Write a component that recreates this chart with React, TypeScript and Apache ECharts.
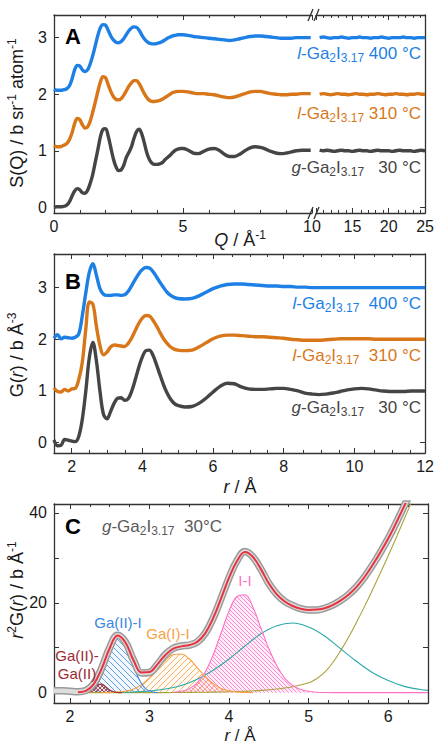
import React, { useEffect, useRef } from "react";
import * as echarts from "echarts";

// ---------------- DATA ----------------
// Panel A: S(Q), low-Q part (0-10 Å^-1)
const Q_LOW = [
  0, 0.1, 0.2, 0.3, 0.4, 0.5, 0.6, 0.7, 0.8, 0.9,
  1.0, 1.1, 1.2, 1.3, 1.4, 1.5, 1.6, 1.7, 1.8, 1.9,
  2.0, 2.1, 2.2, 2.3, 2.4, 2.5, 2.6, 2.7, 2.8, 2.9,
  3.0, 3.1, 3.2, 3.3, 3.4, 3.5, 3.6, 3.7, 3.8, 3.9,
  4.0, 4.1, 4.2, 4.3, 4.4, 4.5, 4.6, 4.7, 4.8, 4.9,
  5.0,
  5.2, 5.4, 5.6, 5.8, 6.0, 6.2, 6.4, 6.6, 6.8, 7.0,
  7.2, 7.4, 7.6, 7.8, 8.0, 8.2, 8.4, 8.6, 8.8, 9.0,
  9.2, 9.4, 9.6, 9.8, 9.95,
];
const S_30C_LOW = [
  0.00, 0.01, 0.01, 0.01, 0.02, 0.04, 0.10, 0.20, 0.29, 0.33,
  0.31, 0.26, 0.25, 0.30, 0.42, 0.58, 0.80, 1.02, 1.25, 1.38,
  1.39, 1.26, 1.06, 0.86, 0.72, 0.65, 0.66, 0.74, 0.88, 0.97,
  1.07, 1.22, 1.34, 1.38, 1.30, 1.14, 0.96, 0.84, 0.78, 0.76,
  0.76, 0.77, 0.79, 0.84, 0.88, 0.92, 0.97, 1.01, 1.03, 1.04,
  1.04,
  1.01, 0.96, 0.95, 0.99, 1.03, 1.04, 1.01, 0.94, 0.90, 0.90,
  0.94, 1.00, 1.05, 1.07, 1.06, 1.03, 0.99, 0.96, 0.95, 0.96,
  0.98, 1.00, 1.01, 1.01, 1.01,
];
const S_310C_LOW = [
  1.09, 1.07, 1.07, 1.08, 1.10, 1.13, 1.20, 1.32, 1.48, 1.57,
  1.55, 1.46, 1.40, 1.42, 1.52, 1.68, 1.86, 2.05, 2.22, 2.31,
  2.29, 2.17, 2.05, 1.96, 1.91, 1.90, 1.92, 1.98, 2.06, 2.14,
  2.20, 2.24, 2.24, 2.19, 2.10, 2.01, 1.94, 1.89, 1.87, 1.87,
  1.88, 1.89, 1.91, 1.94, 1.97, 2.00, 2.03, 2.04, 2.05, 2.05,
  2.05,
  2.04, 2.02, 2.01, 2.01, 2.00, 1.99, 1.97, 1.95, 1.94, 1.95,
  1.98, 2.01, 2.04, 2.05, 2.05, 2.03, 2.01, 2.00, 1.99, 1.99,
  2.00, 2.00, 2.01, 2.01, 2.01,
];
const S_400C_LOW = [
  2.09, 2.07, 2.07, 2.07, 2.08, 2.10, 2.15, 2.27, 2.43, 2.51,
  2.50, 2.43, 2.40, 2.43, 2.53, 2.68, 2.86, 3.04, 3.18, 3.23,
  3.22, 3.13, 3.03, 2.96, 2.92, 2.91, 2.93, 2.98, 3.05, 3.12,
  3.17, 3.19, 3.18, 3.13, 3.05, 2.98, 2.93, 2.90, 2.89, 2.89,
  2.90, 2.91, 2.93, 2.96, 2.99, 3.01, 3.03, 3.04, 3.05, 3.05,
  3.05,
  3.04, 3.02, 3.01, 3.00, 2.99, 2.98, 2.97, 2.96, 2.95, 2.96,
  2.98, 3.00, 3.02, 3.03, 3.03, 3.02, 3.01, 3.00, 2.99, 2.99,
  2.99, 3.00, 3.00, 3.00, 3.00,
];
// Panel A: high-Q part (10-25 Å^-1)
const Q_HIGH = [
  10.5, 11, 11.5, 12, 12.5, 13, 13.5, 14, 14.5, 15,
  15.5, 16, 16.5, 17, 17.5, 18, 18.5, 19, 19.5, 20,
  20.5, 21, 21.5, 22, 22.5, 23, 23.5, 24, 24.5, 25,
];
const S_30C_HIGH = [
  1.01, 1.00, 1.01, 1.00, 0.99, 1.00, 1.01, 1.00, 1.00, 0.99,
  1.00, 1.01, 1.00, 1.00, 0.99, 1.00, 1.01, 1.00, 1.00, 1.00,
  0.99, 1.00, 1.01, 1.00, 1.00, 1.00, 0.99, 1.00, 1.01, 1.00,
];
const S_310C_HIGH = [
  2.00, 2.01, 2.00, 1.99, 2.00, 2.01, 2.00, 2.00, 1.99, 2.00,
  2.01, 2.00, 2.00, 1.99, 2.00, 2.00, 2.01, 2.00, 1.99, 2.00,
  2.00, 2.01, 2.00, 2.00, 1.99, 2.00, 2.00, 2.01, 2.00, 2.00,
];
const S_400C_HIGH = [
  3.00, 3.01, 3.00, 2.99, 3.00, 3.00, 3.01, 3.00, 2.99, 3.00,
  3.00, 3.01, 3.00, 3.00, 2.99, 3.00, 3.00, 3.01, 3.00, 2.99,
  3.00, 3.00, 3.00, 3.01, 3.00, 3.00, 2.99, 3.00, 3.00, 3.00,
];

// Panel B: G(r)
const R_B = [
  1.5, 1.6, 1.7, 1.8, 1.9, 2.0, 2.1, 2.2, 2.3, 2.4,
  2.5, 2.6, 2.7, 2.8, 2.9, 3.0, 3.1, 3.2, 3.3, 3.4,
  3.5, 3.6, 3.7, 3.8, 3.9, 4.0, 4.1, 4.2, 4.3, 4.4,
  4.5, 4.6, 4.7, 4.8, 4.9, 5.0,
  5.2, 5.4, 5.6, 5.8, 6.0, 6.2, 6.4, 6.6, 6.8, 7.0,
  7.2, 7.4, 7.6, 7.8, 8.0, 8.2, 8.4, 8.6, 8.8, 9.0,
  9.2, 9.4, 9.6, 9.8, 10.0, 10.2, 10.4, 10.6, 10.8, 11.0,
  11.2, 11.4, 11.6, 11.8, 12.0,
];
const G_30C = [
  0.05, -0.06, -0.05, 0.06, 0.05, 0.03, 0.02, 0.12, 0.45, 1.00,
  1.65, 1.94, 1.58, 1.00, 0.55, 0.46, 0.60, 0.76, 0.86, 0.87,
  0.82, 0.85, 1.00, 1.22, 1.46, 1.66, 1.78, 1.79, 1.69, 1.51,
  1.31, 1.12, 0.96, 0.84, 0.76, 0.72,
  0.69, 0.70, 0.76, 0.86, 0.98, 1.09, 1.15, 1.14, 1.08, 1.04,
  1.03, 1.03, 1.04, 1.05, 1.05, 1.03, 1.00, 0.96, 0.94, 0.93,
  0.94, 0.96, 0.99, 1.02, 1.04, 1.05, 1.04, 1.02, 1.00, 0.99,
  0.99, 0.99, 1.00, 1.00, 1.00,
];
const G_310C = [
  1.06, 0.99, 0.98, 1.03, 1.00, 1.04, 1.05, 1.22, 1.55, 2.20,
  2.72, 2.68, 2.25, 1.88, 1.70, 1.75, 1.85, 1.89, 1.88, 1.87,
  1.86, 1.92, 2.03, 2.17, 2.31, 2.41, 2.46, 2.45, 2.37, 2.26,
  2.13, 2.01, 1.92, 1.85, 1.81, 1.79,
  1.78, 1.79, 1.85, 1.93, 2.01, 2.06, 2.08, 2.08, 2.07, 2.06,
  2.05, 2.05, 2.04, 2.03, 2.02, 2.00, 1.99, 1.98, 1.98, 1.98,
  1.99, 2.00, 2.01, 2.01, 2.01, 2.01, 2.01, 2.00, 2.00, 2.00,
  2.00, 2.00, 2.00, 2.00, 2.00,
];
const G_400C = [
  2.02, 2.09, 2.01, 2.04, 2.03, 2.02, 2.04, 2.10, 2.45, 2.90,
  3.30, 3.46, 3.24, 2.98, 2.87, 2.85, 2.85, 2.86, 2.86, 2.85,
  2.86, 2.93, 3.04, 3.16, 3.27, 3.35, 3.39, 3.38, 3.31, 3.21,
  3.10, 3.00, 2.91, 2.85, 2.81, 2.79,
  2.78, 2.79, 2.84, 2.91, 2.98, 3.03, 3.06, 3.07, 3.07, 3.06,
  3.05, 3.04, 3.03, 3.03, 3.02, 3.02, 3.01, 3.01, 3.00, 3.00,
  3.00, 3.00, 3.00, 3.00, 3.00, 3.00, 3.00, 3.00, 3.00, 3.00,
  3.00, 3.00, 3.00, 3.00, 3.00,
];

// Panel C: r^2 G(r), g-Ga2I3.17 at 30 °C
const R_C = [
  1.8, 1.9, 2.0, 2.1, 2.2, 2.3, 2.4, 2.5, 2.6, 2.7,
  2.8, 2.9, 3.0, 3.1, 3.2, 3.3, 3.4, 3.5, 3.6, 3.7,
  3.8, 3.9, 4.0, 4.1, 4.2, 4.3, 4.4, 4.5, 4.6, 4.7,
  4.8, 4.9, 5.0, 5.1, 5.2, 5.3, 5.4, 5.5, 5.6, 5.7,
  5.8, 5.9, 6.0, 6.1, 6.2, 6.3,
];
const DATA_C = [
  0.4, 0.4, 0.3, 0.2, 0.5, 2.0, 5.5, 10.0, 12.8, 11.2,
  7.2, 4.4, 4.5, 6.3, 8.5, 9.9, 10.4, 10.6, 11.3, 13.2,
  16.6, 21.0, 25.6, 29.4, 31.4, 30.2, 27.5, 24.3, 21.9, 20.3,
  19.4, 18.7, 18.4, 18.4, 18.8, 19.5, 20.5, 21.8, 23.5, 25.7,
  28.3, 31.2, 34.3, 37.8, 41.5, 45.3,
];
const R_FIT = [
  2.1, 2.2, 2.3, 2.4, 2.5, 2.6, 2.7, 2.8, 2.9, 3.0,
  3.1, 3.2, 3.3, 3.4, 3.5, 3.6, 3.7, 3.8, 3.9, 4.0,
  4.1, 4.2, 4.3, 4.4, 4.5, 4.6, 4.7, 4.8, 4.9, 5.0,
  5.1, 5.2, 5.3, 5.4, 5.5, 5.6, 5.7, 5.8, 5.9, 6.0,
  6.1, 6.2, 6.3,
];
const FIT_C = [
  0.1, 0.4, 1.9, 5.4, 9.9, 12.7, 11.1, 7.2, 4.5, 4.6,
  6.3, 8.4, 9.8, 10.3, 10.6, 11.3, 13.2, 16.6, 21.0, 25.6,
  29.3, 31.3, 30.2, 27.5, 24.3, 21.9, 20.3, 19.3, 18.7, 18.4,
  18.5, 18.8, 19.5, 20.5, 21.8, 23.5, 25.7, 28.3, 31.2, 34.3,
  37.8, 41.5, 45.3,
];
const R_GAGA = [2.15, 2.2, 2.25, 2.3, 2.35, 2.4, 2.45, 2.5, 2.55, 2.6, 2.65];
const V_GAGA = [0, 0.05, 0.3, 1.0, 1.8, 1.9, 1.3, 0.6, 0.2, 0.05, 0];
const R_GA2I = [
  2.15, 2.2, 2.25, 2.3, 2.35, 2.4, 2.45, 2.5, 2.55, 2.6,
  2.65, 2.7, 2.75, 2.8, 2.85, 2.9, 2.95, 3.0, 3.05, 3.1,
];
const V_GA2I = [
  0.05, 0.1, 0.3, 0.9, 2.0, 3.8, 6.1, 8.7, 11.0, 12.4,
  12.3, 10.9, 8.6, 6.0, 3.7, 2.0, 0.9, 0.4, 0.1, 0,
];
const R_GA1I = [
  2.4, 2.5, 2.6, 2.7, 2.8, 2.9, 3.0, 3.1, 3.2, 3.3,
  3.4, 3.5, 3.6, 3.7, 3.8, 3.9, 4.0, 4.1, 4.2, 4.3,
];
const V_GA1I = [
  0.02, 0.05, 0.15, 0.35, 0.8, 1.8, 3.3, 5.2, 7.2, 8.5,
  8.6, 7.5, 5.6, 3.6, 2.0, 0.9, 0.4, 0.15, 0.05, 0,
];
const R_II = [
  3.3, 3.4, 3.5, 3.6, 3.7, 3.8, 3.9, 4.0, 4.1, 4.2,
  4.3, 4.4, 4.5, 4.6, 4.7, 4.8, 4.9, 5.0, 5.1, 5.2,
  5.3, 5.5, 6.0, 6.5,
];
const V_II = [
  0.1, 0.3, 0.9, 2.2, 4.6, 8.4, 13.3, 18.2, 21.4, 21.8,
  19.0, 14.4, 9.8, 6.0, 3.2, 1.6, 0.7, 0.3, 0.1, 0.03,
  0, 0, 0, 0,
];
const R_TEAL = [
  2.6, 2.8, 3.0, 3.2, 3.4, 3.6, 3.8, 4.0, 4.2, 4.4,
  4.6, 4.8, 5.0, 5.2, 5.4, 5.6, 5.8, 6.0, 6.2, 6.4, 6.5,
];
const V_TEAL = [
  0.05, 0.15, 0.36, 0.81, 1.6, 3.0, 5.0, 7.5, 10.4, 13.1,
  14.9, 15.5, 14.6, 12.6, 9.8, 7.0, 4.5, 2.7, 1.4, 0.7, 0.5,
];
const R_OLIVE = [
  2.2, 3.0, 3.2, 3.4, 3.6, 3.8, 4.0, 4.2, 4.4, 4.6,
  4.8, 5.0, 5.1, 5.2, 5.3, 5.4, 5.5, 5.6, 5.7, 5.8,
  5.9, 6.0, 6.1, 6.2, 6.3, 6.4,
];
const V_OLIVE = [
  0, 0.0, 0.02, 0.05, 0.08, 0.13, 0.2, 0.32, 0.5, 0.8,
  1.3, 2.2, 3.1, 4.5, 6.6, 9.3, 12.3, 15.6, 19.1, 22.8,
  26.6, 30.5, 34.5, 38.6, 42.8, 47.0,
];

// Tick values
const A_LEFT_MAJOR = [0, 5, 10];
const A_LEFT_MINOR = [1, 2, 3, 4, 6, 7, 8, 9];
const A_RIGHT_MAJOR = [10, 15, 20, 25];
const A_RIGHT_LABELS = [15, 20, 25];
const A_RIGHT_MINOR = [11, 12, 13, 14, 16, 17, 18, 19, 21, 22, 23, 24];
const AB_Y_TICKS = [0, 1, 2, 3];
const B_MAJOR = [2, 4, 6, 8, 10, 12];
const B_MINOR = [2.5, 3, 3.5, 4.5, 5, 5.5, 6.5, 7, 7.5, 8.5, 9, 9.5, 10.5, 11, 11.5];
const C_MAJOR = [2, 3, 4, 5, 6];
const C_MINOR = [2.25, 2.5, 2.75, 3.25, 3.5, 3.75, 4.25, 4.5, 4.75, 5.25, 5.5, 5.75, 6.25];
const C_Y_TICKS = [0, 10, 20, 30, 40];
const C_Y_LABELS = [0, 20, 40];

// ---------------- STYLE ----------------
const FONT = "Liberation Sans, Arial, Helvetica, sans-serif";
const AX = "#333333";
const BLUE = "#1e80e4";
const ORANGE = "#d8771a";
const GRAY = "#454545";
const C_GAGA = "#9b2a35";
const C_GA2I = "#3a88e2";
const C_GA1I = "#f7a246";
const C_II = "#ff72c6";
const C_TEAL = "#2aa9a9";
const C_OLIVE = "#a9a23a";
const C_RED = "#e8323f";

const zip = (xs: number[], ys: number[]) => xs.map((x, i) => [x, ys[i]]);

function hatch(color: string, dir: "b" | "f" | "x", s: number, bg: number) {
  const back = `M0,0L${s},${s}M${-s / 2},${s / 2}L${s / 2},${s * 1.5}M${s / 2},${-s / 2}L${s * 1.5},${s / 2}`;
  const fwd = `M0,${s}L${s},0M${-s / 2},${s / 2}L${s / 2},${-s / 2}M${s / 2},${s * 1.5}L${s * 1.5},${s / 2}`;
  const d = dir === "b" ? back : dir === "f" ? fwd : back + fwd;
  const svg = `<svg xmlns="http://www.w3.org/2000/svg" width="${s}" height="${s}"><rect width="${s}" height="${s}" fill="${color}" fill-opacity="${bg}"/><path d="${d}" stroke="${color}" stroke-width="0.8" fill="none"/></svg>`;
  return {
    image: "data:image/svg+xml;charset=utf-8," + encodeURIComponent(svg),
    repeat: "repeat",
    imageWidth: s,
    imageHeight: s,
  };
}

function rich(color: string, size: number) {
  const small = Math.round(size * 0.68);
  return {
    n: { fill: color, color, fontSize: size, fontFamily: FONT, lineHeight: size + 4 },
    i: { fill: color, color, fontSize: size, fontFamily: FONT, fontStyle: "italic", lineHeight: size + 4 },
    s: { fill: color, color, fontSize: small, fontFamily: FONT, lineHeight: small, verticalAlign: "bottom" },
    p: { fill: color, color, fontSize: small, fontFamily: FONT, lineHeight: small, verticalAlign: "top" },
  };
}

function gtext(text: string, x: number, y: number, color: string, size: number, align: string, rotation = 0, extra: any = {}) {
  return {
    type: "text",
    x,
    y,
    rotation,
    z: 100,
    style: {
      text,
      rich: rich(color, size),
      fill: color,
      fontSize: size,
      fontFamily: FONT,
      align,
      verticalAlign: "middle",
      ...extra,
    },
  };
}

function xAxisMain(grid: number, min: number, max: number, ticks: number[], labels: number[] | null, position: string) {
  return {
    type: "value",
    gridIndex: grid,
    min,
    max,
    position,
    axisLine: { show: true, onZero: false, lineStyle: { color: AX, width: 1.3 } },
    axisTick: { show: true, inside: true, length: 5, customValues: ticks, lineStyle: { color: AX, width: 1 } },
    axisLabel: labels
      ? { show: true, customValues: labels, fontSize: 16, color: "#1a1a1a", fontFamily: FONT, margin: 5 }
      : { show: false },
    splitLine: { show: false },
  };
}
function xAxisMinor(grid: number, min: number, max: number, ticks: number[], position: string) {
  return {
    type: "value",
    gridIndex: grid,
    min,
    max,
    position,
    axisLine: { show: false, onZero: false },
    axisTick: { show: true, inside: true, length: 3, customValues: ticks, lineStyle: { color: AX, width: 1 } },
    axisLabel: { show: false },
    splitLine: { show: false },
  };
}
function yAxisMain(grid: number, min: number, max: number, ticks: number[], labels: number[] | null, position: string) {
  return {
    type: "value",
    gridIndex: grid,
    min,
    max,
    position,
    axisLine: { show: true, onZero: false, lineStyle: { color: AX, width: 1.3 } },
    axisTick: { show: true, inside: true, length: 5, customValues: ticks, lineStyle: { color: AX, width: 1 } },
    axisLabel: labels
      ? { show: true, customValues: labels, fontSize: 16, color: "#1a1a1a", fontFamily: FONT, margin: 7 }
      : { show: false },
    splitLine: { show: false },
  };
}
function yHidden(grid: number, min: number, max: number) {
  return { type: "value", gridIndex: grid, min, max, show: false, splitLine: { show: false } };
}

function dotted(name: string, xs: number[], ys: number[], color: string, xi: number, yi: number) {
  return {
    type: "line",
    name,
    xAxisIndex: xi,
    yAxisIndex: yi,
    data: zip(xs, ys),
    smooth: 0.35,
    showSymbol: false,
    symbol: "none",
    lineStyle: { color, width: 3.4 },
    emphasis: { disabled: true },
  };
}

function component(xs: number[], ys: number[], color: string, pattern: any) {
  return {
    type: "line",
    xAxisIndex: 6,
    yAxisIndex: 4,
    data: zip(xs, ys),
    smooth: 0.4,
    showSymbol: false,
    symbol: "none",
    lineStyle: { color, width: 1.1 },
    areaStyle: pattern ? { color: pattern, opacity: 1 } : undefined,
    emphasis: { disabled: true },
  };
}

export default function App() {
  const ref = useRef<HTMLDivElement>(null);
  useEffect(() => {
    if (!ref.current) return;
    const chart = echarts.init(ref.current, null, { renderer: "svg" });

    const grids = [
      { left: 54, top: 15, width: 258, height: 198 }, // 0 A1
      { left: 316, top: 15, width: 112, height: 198 }, // 1 A2
      { left: 54, top: 254, width: 374, height: 199 }, // 2 B
      { left: 54, top: 504, width: 374, height: 199 }, // 3 C
    ];
    const grid = [...grids, ...grids].map((g) => ({ ...g, containLabel: false }));

    const xAxis = [
      xAxisMain(0, 0, 10, A_LEFT_MAJOR, A_LEFT_MAJOR, "bottom"),
      xAxisMain(0, 0, 10, A_LEFT_MAJOR, null, "top"),
      xAxisMain(1, 10, 25, A_RIGHT_MAJOR, A_RIGHT_LABELS, "bottom"),
      xAxisMain(1, 10, 25, A_RIGHT_MAJOR, null, "top"),
      xAxisMain(2, 1.5, 12, B_MAJOR, B_MAJOR, "bottom"),
      xAxisMain(2, 1.5, 12, B_MAJOR, null, "top"),
      xAxisMain(3, 1.8, 6.5, C_MAJOR, C_MAJOR, "bottom"),
      xAxisMain(3, 1.8, 6.5, C_MAJOR, null, "top"),
      xAxisMinor(4, 0, 10, A_LEFT_MINOR, "bottom"),
      xAxisMinor(4, 0, 10, A_LEFT_MINOR, "top"),
      xAxisMinor(5, 10, 25, A_RIGHT_MINOR, "bottom"),
      xAxisMinor(5, 10, 25, A_RIGHT_MINOR, "top"),
      xAxisMinor(6, 1.5, 12, B_MINOR, "bottom"),
      xAxisMinor(6, 1.5, 12, B_MINOR, "top"),
      xAxisMinor(7, 1.8, 6.5, C_MINOR, "bottom"),
      xAxisMinor(7, 1.8, 6.5, C_MINOR, "top"),
    ];
    const yAxis = [
      yAxisMain(0, -0.1, 3.4, AB_Y_TICKS, AB_Y_TICKS, "left"),
      yAxisMain(1, -0.1, 3.4, AB_Y_TICKS, null, "right"),
      yAxisMain(2, -0.2, 3.65, AB_Y_TICKS, AB_Y_TICKS, "left"),
      yAxisMain(2, -0.2, 3.65, AB_Y_TICKS, null, "right"),
      yAxisMain(3, -2.3, 42, C_Y_TICKS, C_Y_LABELS, "left"),
      yAxisMain(3, -2.3, 42, C_Y_TICKS, null, "right"),
      yHidden(4, 0, 1),
      yHidden(5, 0, 1),
      yHidden(6, 0, 1),
      yHidden(7, 0, 1),
    ];

    const series: any[] = [
      dotted("30 °C", Q_LOW, S_30C_LOW, GRAY, 0, 0),
      dotted("310 °C", Q_LOW, S_310C_LOW, ORANGE, 0, 0),
      dotted("400 °C", Q_LOW, S_400C_LOW, BLUE, 0, 0),
      dotted("30 °C", Q_HIGH, S_30C_HIGH, GRAY, 2, 1),
      dotted("310 °C", Q_HIGH, S_310C_HIGH, ORANGE, 2, 1),
      dotted("400 °C", Q_HIGH, S_400C_HIGH, BLUE, 2, 1),
      dotted("30 °C", R_B, G_30C, GRAY, 4, 2),
      dotted("310 °C", R_B, G_310C, ORANGE, 4, 2),
      dotted("400 °C", R_B, G_400C, BLUE, 4, 2),
      component(R_OLIVE, V_OLIVE, C_OLIVE, null),
      component(R_TEAL, V_TEAL, C_TEAL, null),
      component(R_II, V_II, C_II, hatch(C_II, "b", 4, 0.12)),
      component(R_GA1I, V_GA1I, C_GA1I, hatch(C_GA1I, "f", 6, 0.06)),
      component(R_GA2I, V_GA2I, C_GA2I, hatch(C_GA2I, "b", 6, 0.06)),
      component(R_GAGA, V_GAGA, C_GAGA, hatch(C_GAGA, "x", 4, 0.1)),
      {
        type: "line",
        xAxisIndex: 6,
        yAxisIndex: 4,
        data: zip(R_C, DATA_C),
        smooth: 0.4,
        showSymbol: false,
        symbol: "none",
        lineStyle: { color: "#9a9a9a", width: 7.5 },
        emphasis: { disabled: true },
      },
      {
        type: "line",
        xAxisIndex: 6,
        yAxisIndex: 4,
        data: zip(R_C, DATA_C),
        smooth: 0.4,
        showSymbol: false,
        symbol: "none",
        lineStyle: { color: "#dcdcdc", width: 4.5 },
        emphasis: { disabled: true },
      },
      {
        type: "line",
        xAxisIndex: 6,
        yAxisIndex: 4,
        data: zip(R_FIT, FIT_C),
        smooth: 0.4,
        showSymbol: false,
        symbol: "none",
        lineStyle: { color: C_RED, width: 2 },
        emphasis: { disabled: true },
      },
    ];

    const lineStyle = { stroke: AX, lineWidth: 1.3 };
    const graphic: any[] = [
      // break marks panel A
      { type: "line", shape: { x1: 308, y1: 21, x2: 313, y2: 9 }, style: lineStyle, z: 100 },
      { type: "line", shape: { x1: 314, y1: 21, x2: 319, y2: 9 }, style: lineStyle, z: 100 },
      { type: "line", shape: { x1: 308, y1: 219, x2: 313, y2: 207 }, style: lineStyle, z: 100 },
      { type: "line", shape: { x1: 314, y1: 219, x2: 319, y2: 207 }, style: lineStyle, z: 100 },
      // panel letters
      gtext("A", 65, 36, "#000", 22, "left", 0, { fontWeight: "bold" }),
      gtext("B", 65, 281, "#000", 22, "left", 0, { fontWeight: "bold" }),
      gtext("C", 65, 526, "#000", 22, "left", 0, { fontWeight: "bold" }),
      // series labels A
      gtext("{i|l}{n|-Ga}{s|2}{n|I}{s|3.17}{n| 400 °C}", 421, 53, BLUE, 17, "right"),
      gtext("{i|l}{n|-Ga}{s|2}{n|I}{s|3.17}{n| 310 °C}", 421, 113, ORANGE, 17, "right"),
      gtext("{i|g}{n|-Ga}{s|2}{n|I}{s|3.17}{n|   30 °C}", 421, 167, GRAY, 17, "right"),
      // series labels B
      gtext("{i|l}{n|-Ga}{s|2}{n|I}{s|3.17}{n|  400 °C}", 421, 303, BLUE, 17, "right"),
      gtext("{i|l}{n|-Ga}{s|2}{n|I}{s|3.17}{n|  310 °C}", 421, 355, ORANGE, 17, "right"),
      gtext("{i|g}{n|-Ga}{s|2}{n|I}{s|3.17}{n|   30 °C}", 421, 407, GRAY, 17, "right"),
      // panel C title and component labels
      gtext("{i|g}{n|-Ga}{s|2}{n|I}{s|3.17}{n|  30°C}", 102, 526, "#5a5a5a", 17, "left"),
      gtext("{n|Ga(II)-I}", 118, 622, C_GA2I, 15, "center"),
      gtext("{n|Ga(I)-I}", 168, 633, C_GA1I, 15, "center"),
      gtext("{n|I-I}", 245, 580, C_II, 15, "center"),
      gtext("{n|Ga(II)-}", 77, 655, C_GAGA, 15, "center"),
      gtext("{n|Ga(II)}", 77, 673, C_GAGA, 15, "center"),
      // axis titles
      gtext("{n|S(Q) / b sr}{p|-1}{n| atom}{p|-1}", 17, 113, "#1a1a1a", 18, "center", Math.PI / 2),
      gtext("{i|Q}{n| / Å}{p|-1}", 240, 240, "#1a1a1a", 18, "center"),
      gtext("{n|G(}{i|r}{n|) / b Å}{p|-3}", 17, 355, "#1a1a1a", 18, "center", Math.PI / 2),
      gtext("{i|r}{n| / Å}", 240, 487, "#1a1a1a", 18, "center"),
      gtext("{i|r}{p|2}{n|G(}{i|r}{n|) / b Å}{p|-1}", 17, 590, "#1a1a1a", 18, "center", Math.PI / 2),
      gtext("{i|r}{n| / Å}", 240, 735, "#1a1a1a", 17, "center"),
    ];

    chart.setOption({
      animation: false,
      backgroundColor: "#ffffff",
      textStyle: { fontFamily: FONT },
      grid,
      xAxis,
      yAxis,
      series,
      graphic,
    });
    return () => chart.dispose();
  }, []);
  return <div ref={ref} style={{ position: "absolute", left: 0, top: 0, width: 437, height: 744 }} />;
}
